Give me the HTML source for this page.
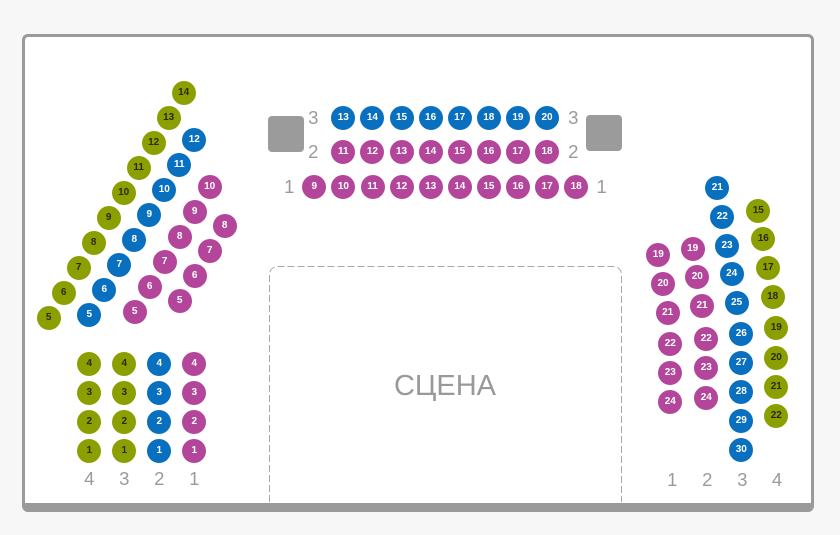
<!DOCTYPE html>
<html>
<head>
<meta charset="utf-8">
<style>
html,body{margin:0;padding:0;}
body{width:840px;height:535px;background:#f7f7f7;position:relative;overflow:hidden;font-family:"Liberation Sans",Arial,sans-serif;}
.card{position:absolute;left:22px;top:34px;width:792px;height:478px;box-sizing:border-box;background:#fff;border:3px solid #9a9a9a;border-bottom-width:9px;border-radius:6px;}
.stage{position:absolute;left:0;top:0;}
.st{position:absolute;left:345px;top:371px;width:200px;text-align:center;font-size:29px;line-height:30px;color:#999;}
.sq{position:absolute;width:36px;height:36px;background:#9b9b9b;border-radius:4px;}
.s{position:absolute;width:24px;height:24px;border-radius:50%;text-align:center;line-height:24px;font-size:10px;font-weight:bold;color:#fff;}
.b{background:#0870bf;}
.p{background:#b3459a;}
.g{background:#8c9f00;color:#2a2a10;}
.l{position:absolute;width:30px;text-align:center;font-size:18.5px;line-height:20px;color:#9a9a9a;}
</style>
</head>
<body>
<div class="card"></div>
<svg class="stage" width="840" height="535" viewBox="0 0 840 535">
<path d="M269.5,502 V274.5 A8,8 0 0 1 277.5,266.5 H613.5 A8,8 0 0 1 621.5,274.5 V502" fill="none" stroke="#a8a8a8" stroke-width="1" stroke-dasharray="7 3"/>
</svg>
<div class="st">СЦЕНА</div>

<div class="sq" style="left:268px;top:116px"></div>
<div class="sq" style="left:585.5px;top:115px"></div>

<!-- left diagonal green -->
<div class="s g" style="left:36.7px;top:305.7px">5</div>
<div class="s g" style="left:51.7px;top:280.7px">6</div>
<div class="s g" style="left:66.7px;top:255.7px">7</div>
<div class="s g" style="left:81.7px;top:230.7px">8</div>
<div class="s g" style="left:96.7px;top:205.7px">9</div>
<div class="s g" style="left:111.7px;top:180.7px">10</div>
<div class="s g" style="left:126.7px;top:155.7px">11</div>
<div class="s g" style="left:141.7px;top:130.7px">12</div>
<div class="s g" style="left:156.7px;top:105.7px">13</div>
<div class="s g" style="left:171.7px;top:80.7px">14</div>
<!-- left diagonal blue -->
<div class="s b" style="left:77.3px;top:303px">5</div>
<div class="s b" style="left:92.3px;top:278px">6</div>
<div class="s b" style="left:107.3px;top:253px">7</div>
<div class="s b" style="left:122.3px;top:228px">8</div>
<div class="s b" style="left:137.3px;top:203px">9</div>
<div class="s b" style="left:152.3px;top:178px">10</div>
<div class="s b" style="left:167.3px;top:153px">11</div>
<div class="s b" style="left:182.3px;top:128px">12</div>
<!-- left diagonal pink inner -->
<div class="s p" style="left:122.7px;top:299.7px">5</div>
<div class="s p" style="left:137.7px;top:274.7px">6</div>
<div class="s p" style="left:152.7px;top:249.7px">7</div>
<div class="s p" style="left:167.7px;top:224.7px">8</div>
<div class="s p" style="left:182.7px;top:199.7px">9</div>
<div class="s p" style="left:197.7px;top:174.7px">10</div>
<!-- left diagonal pink outer -->
<div class="s p" style="left:167.7px;top:289px">5</div>
<div class="s p" style="left:182.7px;top:264px">6</div>
<div class="s p" style="left:197.7px;top:239px">7</div>
<div class="s p" style="left:212.7px;top:214px">8</div>

<!-- bottom-left block -->
<div class="s g" style="left:77.3px;top:352px">4</div>
<div class="s g" style="left:77.3px;top:381.3px">3</div>
<div class="s g" style="left:77.3px;top:410.3px">2</div>
<div class="s g" style="left:77.3px;top:439.3px">1</div>
<div class="s g" style="left:112.3px;top:352px">4</div>
<div class="s g" style="left:112.3px;top:381.3px">3</div>
<div class="s g" style="left:112.3px;top:410.3px">2</div>
<div class="s g" style="left:112.3px;top:439.3px">1</div>
<div class="s b" style="left:147.3px;top:352px">4</div>
<div class="s b" style="left:147.3px;top:381.3px">3</div>
<div class="s b" style="left:147.3px;top:410.3px">2</div>
<div class="s b" style="left:147.3px;top:439.3px">1</div>
<div class="s p" style="left:182.3px;top:352px">4</div>
<div class="s p" style="left:182.3px;top:381.3px">3</div>
<div class="s p" style="left:182.3px;top:410.3px">2</div>
<div class="s p" style="left:182.3px;top:439.3px">1</div>
<div class="l" style="left:74.3px;top:469.3px">4</div>
<div class="l" style="left:109.3px;top:469.3px">3</div>
<div class="l" style="left:144.3px;top:469.3px">2</div>
<div class="l" style="left:179.3px;top:469.3px">1</div>

<!-- top center row 3 -->
<div class="s b" style="left:331.3px;top:106.3px">13</div>
<div class="s b" style="left:360.4px;top:106.3px">14</div>
<div class="s b" style="left:389.5px;top:106.3px">15</div>
<div class="s b" style="left:418.6px;top:106.3px">16</div>
<div class="s b" style="left:447.7px;top:106.3px">17</div>
<div class="s b" style="left:476.8px;top:106.3px">18</div>
<div class="s b" style="left:505.9px;top:106.3px">19</div>
<div class="s b" style="left:535px;top:106.3px">20</div>
<!-- row 2 -->
<div class="s p" style="left:331.3px;top:140.3px">11</div>
<div class="s p" style="left:360.4px;top:140.3px">12</div>
<div class="s p" style="left:389.5px;top:140.3px">13</div>
<div class="s p" style="left:418.6px;top:140.3px">14</div>
<div class="s p" style="left:447.7px;top:140.3px">15</div>
<div class="s p" style="left:476.8px;top:140.3px">16</div>
<div class="s p" style="left:505.9px;top:140.3px">17</div>
<div class="s p" style="left:535px;top:140.3px">18</div>
<!-- row 1 -->
<div class="s p" style="left:302.3px;top:175px">9</div>
<div class="s p" style="left:331.4px;top:175px">10</div>
<div class="s p" style="left:360.5px;top:175px">11</div>
<div class="s p" style="left:389.6px;top:175px">12</div>
<div class="s p" style="left:418.7px;top:175px">13</div>
<div class="s p" style="left:447.8px;top:175px">14</div>
<div class="s p" style="left:476.9px;top:175px">15</div>
<div class="s p" style="left:506px;top:175px">16</div>
<div class="s p" style="left:535.1px;top:175px">17</div>
<div class="s p" style="left:564.2px;top:175px">18</div>
<div class="l" style="left:298.3px;top:108px">3</div>
<div class="l" style="left:298.3px;top:142px">2</div>
<div class="l" style="left:274.3px;top:177px">1</div>
<div class="l" style="left:558.3px;top:108px">3</div>
<div class="l" style="left:558.3px;top:142px">2</div>
<div class="l" style="left:586.7px;top:177px">1</div>

<!-- right side blue -->
<div class="s b" style="left:705.3px;top:176.3px">21</div>
<div class="s b" style="left:710.3px;top:205px">22</div>
<div class="s b" style="left:715px;top:233.7px">23</div>
<div class="s b" style="left:719.7px;top:262.3px">24</div>
<div class="s b" style="left:724.7px;top:291.3px">25</div>
<div class="s b" style="left:729.3px;top:321.7px">26</div>
<div class="s b" style="left:729.3px;top:350.7px">27</div>
<div class="s b" style="left:729.3px;top:379.7px">28</div>
<div class="s b" style="left:729.3px;top:408.7px">29</div>
<div class="s b" style="left:729.3px;top:438px">30</div>
<!-- right side green -->
<div class="s g" style="left:746.3px;top:199.3px">15</div>
<div class="s g" style="left:751.3px;top:227.3px">16</div>
<div class="s g" style="left:756px;top:256px">17</div>
<div class="s g" style="left:760.7px;top:284.7px">18</div>
<div class="s g" style="left:764.3px;top:316.3px">19</div>
<div class="s g" style="left:764.3px;top:345.7px">20</div>
<div class="s g" style="left:764.3px;top:375px">21</div>
<div class="s g" style="left:764.3px;top:404.3px">22</div>
<!-- right side pink col 1 -->
<div class="s p" style="left:646.3px;top:243.3px">19</div>
<div class="s p" style="left:651px;top:272px">20</div>
<div class="s p" style="left:655.7px;top:300.7px">21</div>
<div class="s p" style="left:658.3px;top:331.7px">22</div>
<div class="s p" style="left:658.3px;top:361px">23</div>
<div class="s p" style="left:658.3px;top:390px">24</div>
<!-- right side pink col 2 -->
<div class="s p" style="left:680.7px;top:236.7px">19</div>
<div class="s p" style="left:685.3px;top:265.3px">20</div>
<div class="s p" style="left:690px;top:294px">21</div>
<div class="s p" style="left:694.3px;top:327.3px">22</div>
<div class="s p" style="left:694.3px;top:356.3px">23</div>
<div class="s p" style="left:694.3px;top:385.7px">24</div>
<div class="l" style="left:657.3px;top:470px">1</div>
<div class="l" style="left:692.3px;top:470px">2</div>
<div class="l" style="left:727.3px;top:470px">3</div>
<div class="l" style="left:762px;top:470px">4</div>
</body>
</html>
